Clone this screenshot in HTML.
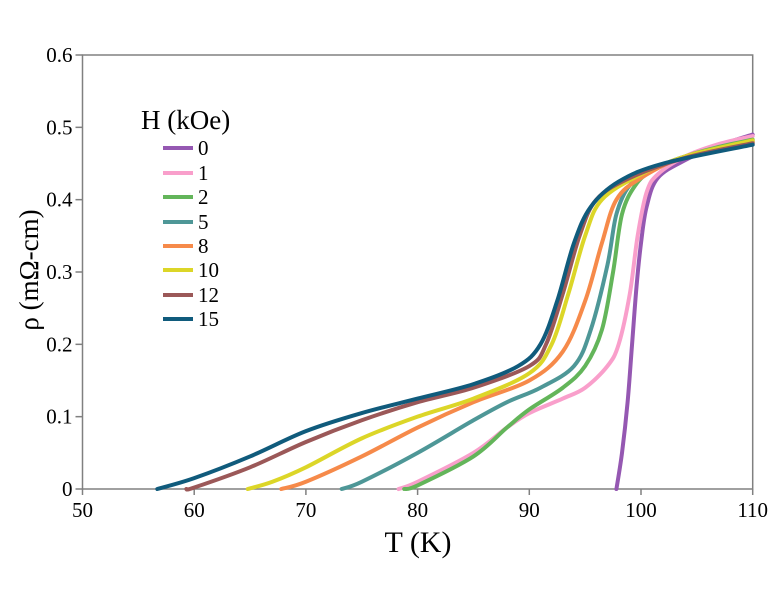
<!DOCTYPE html>
<html><head><meta charset="utf-8"><style>
html,body{margin:0;padding:0;background:#fff;}
svg{display:block;font-family:"Liberation Serif","DejaVu Serif",serif;}
</style></head><body>
<svg id="chart" width="774" height="600" viewBox="0 0 774 600"></svg>
<script>
const xTicks=[50,60,70,80,90,100,110];
const yTicks=[0,0.1,0.2,0.3,0.4,0.5,0.6];
const yTickLabels=["0","0.1","0.2","0.3","0.4","0.5","0.6"];
const fields=["0","1","2","5","8","10","12","15"];
const colors=["#9558b2","#f99fcb","#63b55a","#4e9797","#f68a4a","#dcd628","#9b5858","#105b7c"];
const T0=[97.8,98.3,98.8,99.2,99.6,100,100.5,101.5,104,107,110];
const R0=[0,0.05,0.12,0.2,0.28,0.34,0.39,0.43,0.455,0.475,0.49];
const T1=[78.3,80,85,88,90,93,95,97,98,99,99.7,100.5,101.5,104,107,110];
const R1=[0,0.01,0.05,0.085,0.105,0.125,0.14,0.17,0.2,0.27,0.35,0.41,0.435,0.46,0.477,0.488];
const T2=[78.8,80,85,88,90,93,95,96.5,97.5,98.3,99.5,101,104,107,110];
const R2=[0,0.005,0.045,0.085,0.11,0.14,0.17,0.22,0.3,0.38,0.42,0.44,0.46,0.473,0.483];
const T5=[73.2,75,80,85,88,91,94,95.5,97,97.8,99,101,104,110];
const R5=[0,0.01,0.05,0.095,0.12,0.14,0.17,0.22,0.31,0.38,0.42,0.44,0.46,0.48];
const T8=[67.8,70,75,80,85,90,93,95,96.5,97.8,100,104,110];
const R8=[0,0.01,0.045,0.085,0.12,0.15,0.19,0.26,0.34,0.4,0.43,0.46,0.48];
const T10=[64.8,67,70,75,80,85,90,92,93.5,95,96.5,100,104,110];
const R10=[0,0.01,0.03,0.07,0.1,0.125,0.16,0.2,0.27,0.35,0.4,0.435,0.46,0.482];
const T12=[59.3,60,65,70,75,80,85,90,91.5,93,94.5,96,99,104,110];
const R12=[0,0.002,0.03,0.065,0.095,0.12,0.14,0.17,0.2,0.27,0.35,0.4,0.43,0.458,0.478];
const T15=[56.7,60,65,70,75,80,85,89,91,92.5,94,95.5,98,102,110];
const R15=[0,0.015,0.045,0.08,0.105,0.125,0.145,0.17,0.2,0.26,0.34,0.39,0.425,0.45,0.476];
const seriesT=[T0,T1,T2,T5,T8,T10,T12,T15];
const seriesR=[R0,R1,R2,R5,R8,R10,R12,R15];

const NS="http://www.w3.org/2000/svg";
const svg=document.getElementById('chart');
const X0=82.5,X1=752.7,Y0=489,Y1=55;
function xs(t){return X0+(t-50)/(110-50)*(X1-X0);}
function ys(r){return Y0-(r-0)/(0.6-0)*(Y0-Y1);}
function mk(tag,attrs,parent){const e=document.createElementNS(NS,tag);for(const k in attrs)e.setAttribute(k,attrs[k]);(parent||svg).appendChild(e);return e;}

// frame
const frame=mk('path',{d:`M${X0},${Y1}H${X1}V${Y0}H${X0}Z`,fill:'none',stroke:'#808080','stroke-width':1.5});



xTicks.forEach(t=>{
  const l=mk('line',{x1:xs(t),x2:xs(t),y1:Y0,y2:Y0+6,stroke:'#808080','stroke-width':1.5});
  
  
  const tx=mk('text',{x:xs(t),y:Y0+28,'text-anchor':'middle','font-size':21,fill:'#000'});
  tx.textContent=t;
  
  
});
yTicks.forEach((v,i)=>{
  const l=mk('line',{x1:X0-7,x2:X0,y1:ys(v),y2:ys(v),stroke:'#808080','stroke-width':1.5});
  
  
  const tx=mk('text',{x:X0-10,y:ys(v)+7,'text-anchor':'end','font-size':21,fill:'#000'});
  tx.textContent=yTickLabels[i];
  
  
});

function smooth(T,R){
  const p=T.map((t,i)=>[xs(t),ys(R[i])]);
  let d=`M${p[0][0]},${p[0][1]}`;
  for(let i=0;i<p.length-1;i++){
    const a=p[i-1]||p[i],b=p[i],c=p[i+1],e=p[i+2]||c;
    const c1=[b[0]+(c[0]-a[0])/6,b[1]+(c[1]-a[1])/6];
    const c2=[c[0]-(e[0]-b[0])/6,c[1]-(e[1]-b[1])/6];
    d+=`C${c1[0]},${c1[1]} ${c2[0]},${c2[1]} ${c[0]},${c[1]}`;
  }
  return d;
}
const order=[0,1,2,3,4,5,6,7];
order.forEach(i=>{
  const p=mk('path',{d:smooth(seriesT[i],seriesR[i]),fill:'none',stroke:colors[i],'stroke-width':4,'stroke-linejoin':'round','stroke-linecap':'round'});
  
  
});

// legend
const lt=mk('text',{x:141,y:129,'font-size':27,fill:'#000'});
lt.textContent='H (kOe)';


const ly=[148,173,197,222,246,270,295,319];
fields.forEach((f,i)=>{
  const g=mk('g',{});
  
  
  mk('line',{x1:163,x2:193,y1:ly[i],y2:ly[i],stroke:colors[i],'stroke-width':4},g);
  const t=mk('text',{x:198,y:ly[i]+7,'font-size':21,fill:'#000'},g);
  t.textContent=f;
});

const xt=mk('text',{x:418,y:552,'text-anchor':'middle','font-size':30,fill:'#000'});
xt.textContent='T (K)';


const yt=mk('text',{x:0,y:0,'text-anchor':'middle','font-size':27,fill:'#000',transform:'translate(38,270) rotate(-90)'});
yt.textContent='ρ (mΩ-cm)';


</script>
</body></html>
